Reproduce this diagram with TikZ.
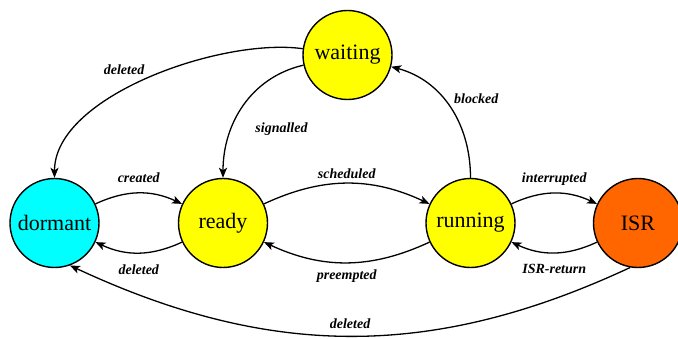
\documentclass[tikz,border=0pt]{standalone}
\usepackage{fontspec}
\setmainfont{Liberation Serif}
\newfontfamily\timesfont{Liberation Serif}
\usetikzlibrary{arrows.meta, positioning}

\definecolor{dormantcyan}{RGB}{0,255,255}
\definecolor{stateyellow}{RGB}{255,255,0}
\definecolor{isrorange}{RGB}{255,102,0}

\begin{document}
\begin{tikzpicture}[x=1pt, y=1pt,
    state/.style={circle, draw, line width=1.4pt, minimum size=89pt, inner sep=0pt,
                  font=\timesfont\fontsize{22}{24}\selectfont},
    trans/.style={line width=1.3pt, -{Stealth[length=10pt, width=8pt, inset=2.5pt]}},
    lbl/.style={font=\timesfont\fontsize{14}{16}\selectfont\bfseries\itshape}]
    \useasboundingbox (0,0) rectangle (678,338);

    % States
    \node[state, fill=dormantcyan] (dormant) at (54.5,115) {dormant};
    \node[state, fill=stateyellow] (ready)   at (223,115)  {ready};
    \node[state, fill=stateyellow] (waiting) at (347.5,283) {waiting};
    \node[state, fill=stateyellow] (running) at (470.5,115) {running};
    \node[state, fill=isrorange]   (isr)     at (638,115)  {ISR};

    % Transitions through waiting
    \draw[trans] (waiting) to[out=172, in=90, looseness=0.75]
        node[lbl, pos=0.5, above left] {deleted} (dormant);
    \draw[trans] (waiting) to[out=193, in=90]
        node[lbl, pos=0.68, right=20pt] {signalled} (ready);
    \draw[trans] (running) to[out=90, in=-15]
        node[lbl, pos=0.5, above right] {blocked} (waiting);

    % Transitions along the row
    \draw[trans] (dormant) to[bend left=25] node[lbl, above=7pt] {created} (ready);
    \draw[trans] (ready) to[bend left=25] node[lbl, below=8pt] {deleted} (dormant);
    \draw[trans] (ready) to[bend left=25] node[lbl, above=1pt] {scheduled} (running);
    \draw[trans] (running) to[bend left=25] node[lbl, below=3pt] {preempted} (ready);
    \draw[trans] (running) to[bend left=25] node[lbl, above=4pt] {interrupted} (isr);
    \draw[trans] (isr) to[bend left=25] node[lbl, below=8pt] {ISR-return} (running);

    % ISR back to dormant
    \draw[trans] (isr.260) to[out=205, in=-25]
        node[lbl, pos=0.5, above=3pt] {deleted} (dormant.290);
\end{tikzpicture}
\end{document}
